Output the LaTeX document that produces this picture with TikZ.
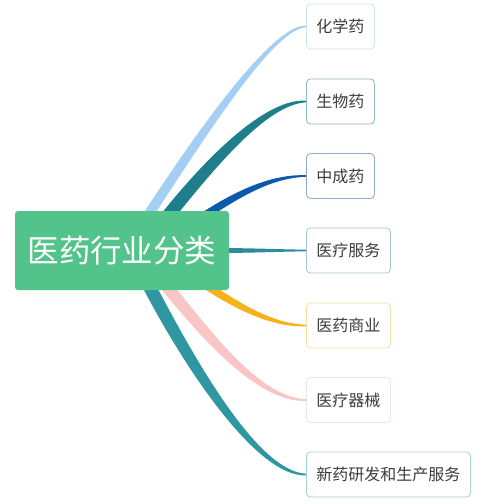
\documentclass[tikz,border=0pt]{standalone}
\usepackage{fontspec}
\setmainfont{Noto Sans CJK SC}
\usepackage{tikz}
\usetikzlibrary{calc,backgrounds}

\definecolor{rootgreen}{HTML}{52C48B}
\definecolor{leafgray}{HTML}{3C3C3C}
\definecolor{chemline}{HTML}{A4CEF4}
\definecolor{chemedge}{HTML}{CFE2F2}
\definecolor{bioline}{HTML}{1E7E8B}
\definecolor{bioedge}{HTML}{8FB7BF}
\definecolor{tcmline}{HTML}{0B5BAA}
\definecolor{tcmedge}{HTML}{92ADC9}
\definecolor{careline}{HTML}{2B8CA0}
\definecolor{careedge}{HTML}{A3C6D2}
\definecolor{tradeline}{HTML}{F5B21B}
\definecolor{tradeedge}{HTML}{F6DFA3}
\definecolor{deviceline}{HTML}{F9C6C6}
\definecolor{deviceedge}{HTML}{F7E1E1}
\definecolor{rdline}{HTML}{2F97A2}
\definecolor{rdedge}{HTML}{A6D2D5}

% tapered branch: colour, from, start offset, first control, second control, to, half width
\newcommand{\branch}[7]{%
	\coordinate (bA) at ($(#2.center)+(#3)$);
	\coordinate (bB) at ($(bA)+(#4)$);
	\coordinate (bD) at (#6.west);
	\coordinate (bC) at ($(bD)+(#5)$);
	\fill[#1] ($(bA)!#7!90:(bB)$) .. controls ($(bB)!#7!-90:(bA)$) and ($(bC)!0.5*#7!90:(bD)$) .. ($(bD)!0.8pt!-90:(bC)$)
		-- ($(bD)!0.8pt!90:(bC)$) .. controls ($(bC)!0.5*#7!-90:(bD)$) and ($(bB)!#7!90:(bA)$) .. ($(bA)!#7!-90:(bB)$) -- cycle;}

\begin{document}
\begin{tikzpicture}
	[x=1pt,y=-1pt,
		root node/.style={rectangle,rounded corners=3pt,fill=rootgreen,text=white,minimum width=214pt,minimum height=79pt,inner sep=0pt,font=\fontsize{31.5}{34}\selectfont},
		leaf node/.style={rectangle,rounded corners=4pt,draw,fill=white,line width=0.8pt,anchor=west,minimum height=45pt,inner xsep=10pt,text=leafgray,font=\fontsize{16}{18}\selectfont}]

	\useasboundingbox (0,0) rectangle (483,504);

	\node[root node] (root) at (122,250.5) {医药行业分类};

	\node[leaf node, draw=chemedge] (chem) at (306,26.5) {化学药};
	\node[leaf node, draw=bioedge] (bio) at (306,101.5) {生物药};
	\node[leaf node, draw=tcmedge] (tcm) at (306,176) {中成药};
	\node[leaf node, draw=careedge] (care) at (306,250.5) {医疗服务};
	\node[leaf node, draw=tradeedge] (trade) at (306,325.5) {医药商业};
	\node[leaf node, draw=deviceedge] (device) at (306,400) {医疗器械};
	\node[leaf node, draw=rdedge] (rd) at (306,474.5) {新药研发和生产服务};

	\begin{scope}[on background layer]
	\branch{chemline}{root}{23,-30.5}{65,-100}{-31,0}{chem}{5pt}
	\branch{bioline}{root}{41,-28.5}{57,-72}{-36,0}{bio}{6.5pt}
	\branch{tcmline}{root}{73,-28.5}{40,-27}{-36,0}{tcm}{4pt}
	\branch{careline}{root}{93,0}{35,0}{-30,0}{care}{2.5pt}
	\branch{tradeline}{root}{73,27.5}{40,27}{-36,0}{trade}{4pt}
	\branch{deviceline}{root}{38,27.5}{50,62}{-46,0}{device}{6pt}
	\branch{rdline}{root}{23,27.5}{50,97}{-46,0}{rd}{6.5pt}
	\end{scope}

\end{tikzpicture}
\end{document}
